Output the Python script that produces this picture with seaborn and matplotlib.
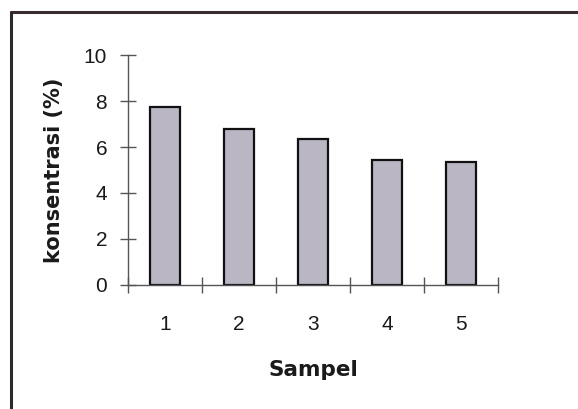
import matplotlib
matplotlib.use("Agg")
import matplotlib.pyplot as plt
from matplotlib.lines import Line2D
from matplotlib.ticker import FixedLocator
import seaborn as sns
import pandas as pd

samples = ["1", "2", "3", "4", "5"]
konsentrasi = [7.75, 6.8, 6.33, 5.43, 5.33]
y_ticks = [0, 2, 4, 6, 8, 10]

sns.set_style("white")
plt.rcParams['font.family'] = ['Liberation Sans', 'DejaVu Sans']
plt.rcParams['text.color'] = '#1a1a1a'
plt.rcParams['xtick.labelcolor'] = '#1a1a1a'
plt.rcParams['ytick.labelcolor'] = '#1a1a1a'

df = pd.DataFrame({"Sampel": samples, "konsentrasi": konsentrasi})

fig = plt.figure(figsize=(5.78, 4.09), dpi=100)
ax = fig.add_axes([0.2215, 0.3032, 0.64, 0.5623])

sns.barplot(data=df, x="Sampel", y="konsentrasi", ax=ax, color="#bab6c4",
            width=0.41, edgecolor="#111111", linewidth=1.6, saturation=1)

ax.set_xlim(-0.5, len(samples) - 0.5)
ax.set_ylim(0, 10)
ax.set_yticks(y_ticks)
ax.set_yticklabels([str(t) for t in y_ticks])
ax.xaxis.set_minor_locator(FixedLocator([i - 0.5 for i in range(len(samples) + 1)]))

for s in ["top", "right"]:
    ax.spines[s].set_visible(False)
for s in ["left", "bottom"]:
    ax.spines[s].set_color("#555555")
    ax.spines[s].set_linewidth(1.0)

ax.tick_params(axis="y", which="major", direction="inout", length=11, width=1.0,
               color="#555555", pad=9.5, labelsize=15, left=True)
ax.tick_params(axis="x", which="major", length=0, pad=21.5, labelsize=15)
ax.tick_params(axis="x", which="minor", direction="inout", length=11, width=1.0,
               color="#555555", bottom=True)

ax.set_ylabel("konsentrasi (%)", fontsize=15, fontweight="bold",
              family=["DejaVu Sans"], color="#1a1a1a")
ax.set_xlabel("Sampel", fontsize=15.5, fontweight="bold", family=["DejaVu Sans"],
              color="#1a1a1a")
ax.yaxis.set_label_coords(-0.172, 0.5)
ax.xaxis.set_label_coords(0.5, -0.325)
ax.xaxis.label.set_va("top")

# scanned frame (top and left edges)
fig.add_artist(Line2D([0.019, 1.0], [0.971, 0.971], transform=fig.transFigure,
                      color="#3a2b32", linewidth=2.2))
fig.add_artist(Line2D([0.019, 0.019], [0.0, 0.971], transform=fig.transFigure,
                      color="#2e2a2c", linewidth=2.2))

fig.savefig("out.png", dpi=100, facecolor="white")
